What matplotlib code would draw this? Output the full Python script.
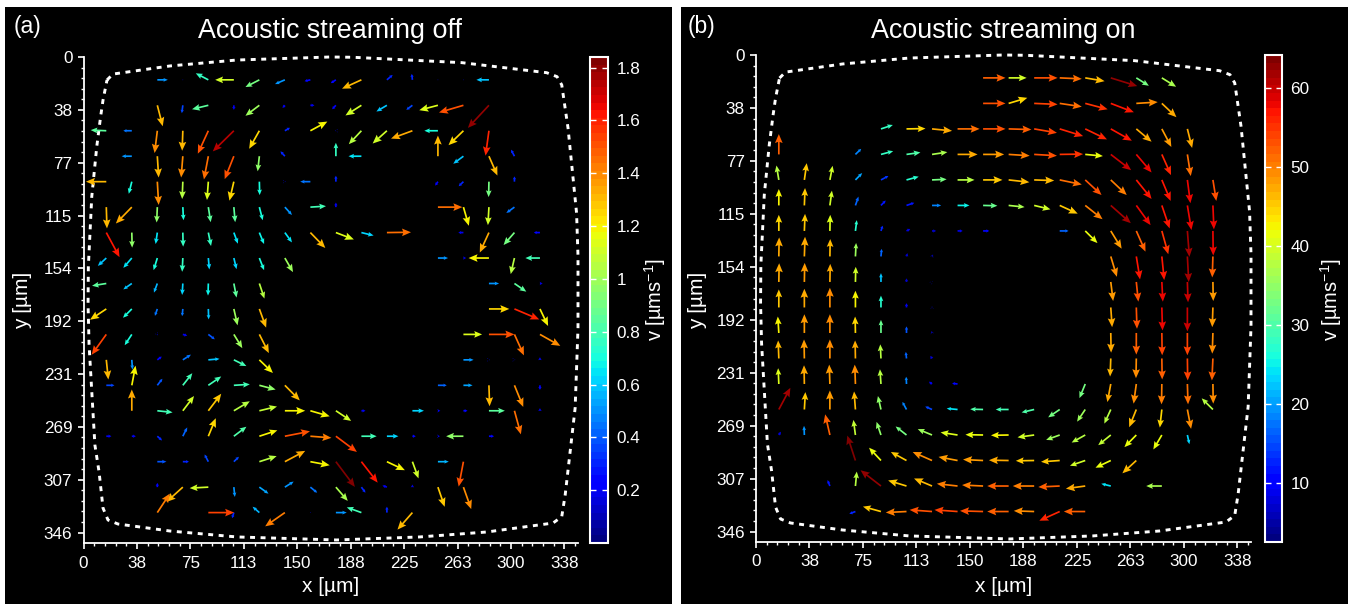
import numpy as np
import matplotlib
matplotlib.use('Agg')
import matplotlib.pyplot as plt
from matplotlib.cm import ScalarMappable
from matplotlib.colors import Normalize
from matplotlib.patches import Rectangle
from matplotlib.ticker import AutoMinorLocator

plt.rcParams['font.family'] = ['Liberation Sans', 'DejaVu Sans']
plt.rcParams['mathtext.default'] = 'regular'

W, H = 1349, 604

# measurement grid, um
grid_x = [16.0, 33.9, 51.8, 69.7, 87.6, 105.5, 123.4, 141.3, 159.2, 177.1, 195.0, 212.9, 230.8, 248.7, 266.6, 284.5, 302.4, 320.3]
grid_y = [16.6, 35.1, 53.6, 72.1, 90.6, 109.1, 127.6, 146.1, 164.6, 183.1, 201.6, 220.1, 238.6, 257.1, 275.6, 294.1, 312.6, 331.1]

x_ticks = [0, 37.5, 75, 112.5, 150, 187.5, 225, 262.5, 300, 337.5]
x_labels = ['0', '38', '75', '113', '150', '188', '225', '263', '300', '338']
y_ticks = [0, 38.4, 76.8, 115.2, 153.6, 192, 230.4, 268.8, 307.2, 345.6]
y_labels = ['0', '38', '77', '115', '154', '192', '231', '269', '307', '346']

# chamber outline
wall_x = [16.5, 20.7, 60.7, 107.5, 173, 189, 265.4, 325, 332.3, 335.6, 340, 346, 347, 347, 345, 338, 335.6, 329.5, 283, 236, 177.7, 107.5, 60.7, 24.2, 17.2, 13.7, 10.9, 8, 5.8, 3.9, 3.2, 3.4, 5.8, 9.3, 12, 13.7, 16.5]
wall_y = [16.7, 12.4, 6.5, 2.2, 0, 0.2, 4.1, 11.4, 14.3, 20.3, 51.6, 113.4, 144.6, 197, 255, 318.3, 334, 338.7, 345.2, 348.8, 351, 348.8, 344.5, 339.4, 336.5, 327.8, 301.4, 282, 243, 209, 180, 152.4, 101.5, 65.2, 43.4, 31.3, 16.7]

# panel a, one line per grid row: column index, arrow components, speed
a_col = [
    [2, 3, 4, 5, 6, 7, 8, 9, 10, 11, 12, 13, 14, 15],
    [2, 3, 4, 5, 6, 7, 8, 9, 10, 11, 12, 13, 14, 15],
    [0, 1, 2, 3, 4, 5, 6, 7, 8, 9, 10, 11, 12, 13, 14, 15],
    [1, 2, 3, 4, 5, 6, 7, 9, 10, 13, 14, 15, 16],
    [0, 1, 2, 3, 4, 5, 6, 7, 8, 9, 13, 14, 15, 16],
    [0, 1, 2, 3, 4, 5, 6, 7, 8, 9, 13, 14, 15, 16],
    [0, 1, 2, 3, 4, 5, 6, 7, 8, 9, 10, 11, 14, 15, 16, 17],
    [0, 1, 2, 3, 4, 5, 6, 7, 13, 14, 15, 16, 17],
    [0, 1, 2, 3, 4, 5, 6, 15, 16, 17],
    [0, 1, 2, 3, 4, 5, 6, 15, 16, 17],
    [0, 1, 2, 3, 4, 5, 6, 14, 15, 16, 17],
    [0, 1, 2, 3, 4, 5, 6, 14, 15, 16, 17],
    [0, 1, 2, 3, 4, 5, 6, 7, 13, 14, 15, 16, 17],
    [1, 2, 3, 4, 5, 6, 7, 8, 9, 10, 12, 13, 14, 15, 16, 17],
    [0, 1, 2, 3, 4, 5, 6, 7, 8, 9, 10, 11, 12, 13, 14, 15],
    [2, 3, 4, 5, 6, 7, 8, 9, 10, 11, 12, 13, 14],
    [2, 3, 4, 5, 6, 7, 8, 9, 10, 11, 12, 13, 14],
    [2, 4, 5, 6, 7, 8, 9, 10, 11, 12],
]
a_u = [
    [31, 2, -37, -55, -41, -29, -17, -15, -57, 17, -2, -2, -2, -37],
    [16, -3, -48, 0, -41, -7, 12, -11, -47, -31, -18, -55, -72, -62],
    [-46, -25, -8, -2, -31, -62, -30, 15, 50, -3, -37, -42, -63, -40, -44, -10],
    [-30, 4, -5, -13, -27, -5, -13, 0, -38, 0, -30, 25, -10],
    [-60, -9, 4, -2, -4, -13, 1, 3, -30, 0, -8, -14, -1, 0],
    [2, -47, -2, 2, 7, 4, 10, 21, 46, 0, 72, 16, -3, -24],
    [39, 1, -5, 1, 8, 12, 14, 21, 44, 53, 36, 71, -15, -27, -32, -18],
    [-25, -25, -11, -2, 3, 8, 14, 24, 30, 8, -60, -11, -43],
    [-42, -25, -10, -2, -1, 8, 15, 30, 35, 8],
    [-48, -26, -7, -2, 1, 11, 20, 60, 73, 24],
    [-43, -21, 2, 13, 19, 25, 28, 55, 75, 28, 60],
    [6, 2, 13, 24, 33, 37, 40, 30, 3, 3, 0],
    [24, 11, 15, 28, 38, 47, 48, 44, 26, 27, 2, 26, 0],
    [0, 45, 33, 38, 47, 52, 60, 57, 45, 12, 34, 7, 12, 47, 19, 0],
    [15, 12, 14, 13, 22, 37, 53, 74, 62, 62, 45, 34, 10, 6, -51, 15],
    [27, 18, -11, 15, 51, 60, 57, 56, 48, 53, 18, 32, -14],
    [0, -48, -55, 3, 27, 26, 20, 35, 12, -13, 0, 20, 23],
    [37, 76, -5, -20, -58, 2, 32, -43, 0, -44],
]
a_v = [
    [0, 0, -20, 0, 22, 13, 4, 10, 27, -15, -18, 0, 0, 0],
    [64, 24, 12, 14, 32, 8, 0, 12, 31, 19, 14, 15, 22, 69],
    [-2, 0, 68, 61, 70, 63, 55, -9, -28, 0, 41, 39, 24, 0, 44, 76],
    [0, 65, 65, 71, 70, 46, -15, -41, 0, -63, 23, 59, -20],
    [0, 37, 71, 53, 56, 58, 41, 0, 0, -18, 12, 14, 47, -16],
    [65, 50, 47, 40, 46, 46, 40, 24, -3, -14, 0, 57, 55, 18],
    [75, 46, 35, 43, 41, 34, 35, 30, 47, 21, 9, -1, 0, 61, 38, 0],
    [24, 30, 37, 42, 35, 34, 37, 43, 0, 0, 0, 49, 0],
    [7, 18, 28, 35, 37, 43, 46, 0, 25, 0],
    [33, 27, 21, 22, 32, 50, 57, 0, 32, 52],
    [62, 33, 3, 4, 15, 42, 57, 0, 0, 64, 35],
    [60, 30, -10, -16, -3, 19, 40, 0, 0, 0, -8],
    [0, -60, -20, -37, -27, -3, 13, 46, 0, 0, 64, 66, 14],
    [-65, 5, -45, -52, -29, -13, 0, 17, 31, 0, 0, 0, 0, 0, 72, -8],
    [0, 0, 13, -27, -55, -29, -18, -15, 5, 48, 0, 0, 0, 0, 0, 0],
    [0, 0, -22, -15, -17, -33, 11, 77, 64, 26, 51, 0, 76],
    [-13, 45, 3, 30, 20, -17, 17, 42, 17, -5, -8, 60, 67],
    [-58, 0, 17, -18, 42, 0, 0, -16, -18, 52],
]
a_speed = [
    [.5, .1, .75, 1.1, .9, .5, .25, .25, 1.3, .3, .3, .1, .08, .6],
    [1.3, .35, .85, .2, 1.0, .2, .2, .25, 1.1, .6, .35, 1.15, 1.5, 1.8],
    [.85, .45, 1.4, 1.3, 1.5, 1.75, 1.25, .3, 1.2, .1, 1.05, 1.1, 1.35, .7, 1.25, 1.6],
    [.5, 1.3, 1.4, 1.45, 1.5, .95, .3, .75, .65, 1.3, .6, 1.3, .3],
    [1.3, .7, 1.4, 1.05, 1.15, 1.25, .7, .1, .45, .3, .25, .3, .9, .3],
    [1.3, 1.35, .95, .7, .85, .85, .7, .5, .8, .2, 1.45, 1.2, 1.1, .45],
    [1.62, .95, .65, .75, .75, .65, .68, .65, 1.3, 1.15, .62, 1.45, .2, 1.35, .9, .25],
    [.6, .65, .7, .75, .62, .62, .7, 1.0, .5, .15, 1.2, 1.05, .8],
    [.85, .6, .55, .62, .68, .85, 1.05, .5, .85, .15],
    [1.25, .7, .45, .45, .6, 1.0, 1.3, 1.25, 1.6, 1.2],
    [1.55, .7, .1, .2, .4, 1.0, 1.3, 1.15, 1.52, 1.45, 1.4],
    [1.3, .5, .25, .45, .6, .8, 1.2, .5, .1, .1, .2],
    [.35, 1.2, .4, .8, .8, .8, .95, 1.3, .42, .52, 1.3, 1.4, .25],
    [1.35, .8, 1.1, 1.28, 1.05, 1.08, 1.18, 1.18, 1.1, .2, .62, .2, .25, .85, 1.45, .2],
    [.2, .2, .3, .42, 1.25, .82, 1.18, 1.5, 1.42, 1.55, .8, .62, .25, .15, .95, .25],
    [.4, .3, .35, .35, 1.05, 1.35, 1.18, 1.84, 1.62, 1.2, 1.1, .55, 1.52],
    [.25, 1.3, 1.12, .5, .52, .5, .45, 1.02, .3, .2, .15, 1.28, 1.4],
    [1.42, 1.55, .3, .55, 1.42, .1, .5, .8, .3, 1.3],
]

# panel b
b_col = [
    [8, 9, 10, 11, 12, 13, 14, 15],
    [8, 9, 10, 11, 12, 13, 14, 15],
    [4, 5, 6, 7, 8, 9, 10, 11, 12, 13, 14, 15, 16],
    [0, 3, 4, 5, 6, 7, 8, 9, 10, 11, 12, 13, 14, 15, 16],
    [0, 1, 2, 3, 4, 5, 6, 7, 8, 9, 10, 11, 12, 13, 14, 15, 16, 17],
    [0, 1, 2, 3, 4, 5, 6, 7, 8, 9, 10, 11, 12, 13, 14, 15, 16, 17],
    [0, 1, 2, 3, 4, 5, 6, 7, 8, 11, 12, 13, 14, 15, 16, 17],
    [0, 1, 2, 3, 4, 5, 6, 13, 14, 15, 16, 17],
    [0, 1, 2, 3, 4, 5, 6, 13, 14, 15, 16, 17],
    [0, 1, 2, 3, 4, 5, 6, 13, 14, 15, 16, 17],
    [0, 1, 2, 3, 4, 5, 6, 13, 14, 15, 16, 17],
    [0, 1, 2, 3, 4, 5, 6, 13, 14, 15, 16, 17],
    [0, 1, 2, 3, 4, 5, 6, 7, 12, 13, 14, 15, 16, 17],
    [0, 1, 2, 3, 4, 5, 6, 7, 8, 9, 10, 11, 12, 13, 14, 15, 16, 17],
    [0, 1, 2, 3, 4, 5, 6, 7, 8, 9, 10, 11, 12, 13, 14, 15, 16],
    [3, 4, 5, 6, 7, 8, 9, 10, 11, 12, 13, 14],
    [2, 3, 4, 5, 6, 7, 8, 9, 10, 11, 12, 13, 15],
    [3, 4, 5, 6, 7, 8, 9, 10, 11, 12],
]
b_u = [
    [66, 53, 69, 65, 57, 78, 37, 42],
    [66, 55, 69, 65, 66, 68, 63, 43],
    [35, 56, 59, 65, 66, 67, 67, 69, 64, 62, 45, 28, 14],
    [0, 17, 36, 41, 45, 59, 62, 62, 67, 69, 52, 60, 45, 27, 10],
    [-7, 7, 8, 20, 22, 36, 43, 50, 57, 61, 59, 65, 48, 47, 45, 26, 9, 10],
    [0, 2, 6, 9, 14, 23, 27, 35, 42, 47, 48, 53, 51, 59, 42, 23, 12, 3],
    [0, 2, 1, 4, 5, 11, 12, 15, 18, 26, 36, 32, 27, 19, 6, 1],
    [1, 2, 1, 2, 2, 3, 3, 18, 11, 7, 4, -2],
    [1, 1, 1, 1, 0, 0, 2, 7, 6, 3, 2, 1],
    [0, 0, 0, 0, 0, 0, 0, 4, 2, 2, 0, -2],
    [-3, 0, 0, -1, 0, 0, -2, 1, 0, 1, 0, -2],
    [-2, -1, 0, -1, -2, -2, -5, -2, -1, 1, 1, -3],
    [-2, -1, -2, -2, -3, -1, -9, -16, -17, -10, -8, -1, 2, 1],
    [34, 3, 0, -4, -9, -12, -20, -32, -38, -38, -37, -34, -24, -19, -21, -6, 11, -33],
    [6, -1, -14, -6, -13, -32, -42, -50, -52, -52, -49, -40, -40, -37, -35, -25, 6],
    [-24, -35, -46, -57, -56, -59, -58, -54, -55, -45, -45, -41],
    [-7, 4, -60, -54, -53, -61, -62, -63, -63, -63, -57, -28, -46],
    [-18, -53, -61, -66, -68, -68, -63, -60, -60, -63],
]
b_v = [
    [0, 0, 0, 3, 10, 25, 24, 27],
    [0, -17, 3, 10, 18, 27, -4, 42],
    [-12, -1, 6, 0, 0, 2, 12, 22, 32, 36, 39, 55, 58],
    [-62, -17, -10, -6, -7, 0, 0, 4, 4, -1, 5, 48, 55, 63, 66],
    [-44, -51, -43, -21, -12, -10, -2, 0, 0, 7, 2, 14, 46, 46, 58, 64, 71, 64],
    [-50, -53, -45, -27, -15, -8, 0, 0, 1, 5, 12, 25, 42, 54, 60, 70, 75, 73],
    [-49, -52, -49, -33, -16, -6, 0, 0, 0, 0, 37, 54, 63, 71, 79, 75],
    [-58, -60, -53, -41, -23, -10, -6, 62, 70, 72, 78, 64],
    [-57, -58, -55, -46, -27, -11, -2, 58, 60, 60, 62, 58],
    [-55, -57, -60, -51, -36, -13, -4, 60, 65, 70, 73, 60],
    [-50, -57, -57, -50, -40, -20, -6, 60, 66, 68, 68, 63],
    [-55, -58, -58, -55, -43, -20, -8, 55, 60, 64, 67, 67],
    [-48, -57, -59, -59, -45, -22, -7, -2, 43, 55, 60, 62, 62, 60],
    [-66, -53, -58, -55, -41, -23, -9, -3, -1, 0, 9, 24, 37, 43, 54, 55, 59, -34],
    [-10, -28, -63, -46, -40, -26, -18, -8, -1, 1, 7, 15, 23, 31, 37, 44, 28],
    [-76, -39, -26, -26, -11, -3, -1, 1, 4, 16, 22, 39],
    [-18, -44, -48, -17, -23, -7, -3, 0, 0, 3, 8, -7, 0],
    [7, -15, 3, -5, -5, -2, 0, -2, 28, 0],
]
b_speed = [
    [52, 40, 53, 51, 46, 63, 33, 37],
    [53, 44, 54, 51, 55, 57, 49, 47],
    [28, 44, 47, 51, 53, 52, 54, 56, 56, 57, 47, 48, 47],
    [52, 18, 28, 30, 37, 47, 48, 50, 53, 55, 42, 60, 58, 56, 51],
    [38, 45, 40, 20, 14, 27, 33, 38, 45, 46, 46, 51, 53, 50, 57, 57, 58, 53],
    [43, 45, 40, 17, 12, 12, 18, 25, 32, 37, 40, 45, 50, 62, 58, 57, 58, 58],
    [44, 45, 41, 27, 13, 8, 7, 9, 11, 17, 42, 48, 52, 55, 62, 58],
    [47, 47, 46, 36, 17, 7, 5, 49, 57, 57, 62, 52],
    [47, 48, 47, 40, 22, 7, 4, 48, 53, 58, 60, 48],
    [45, 47, 49, 43, 27, 9, 3, 47, 53, 58, 60, 48],
    [43, 48, 49, 44, 32, 16, 5, 47, 52, 54, 54, 49],
    [46, 48, 49, 47, 38, 17, 8, 46, 49, 52, 54, 52],
    [41, 47, 48, 49, 38, 18, 9, 11, 33, 47, 49, 50, 51, 49],
    [62, 45, 48, 46, 35, 18, 15, 24, 30, 29, 30, 33, 36, 38, 46, 44, 49, 38],
    [8, 19, 52, 39, 35, 33, 36, 41, 42, 43, 40, 36, 38, 39, 42, 42, 23],
    [64, 42, 45, 49, 48, 48, 47, 45, 45, 40, 42, 46],
    [12, 38, 63, 45, 46, 50, 50, 52, 50, 52, 47, 24, 37],
    [13, 45, 50, 53, 54, 53, 52, 49, 56, 52],
]

a_ticks = [0.2, 0.4, 0.6, 0.8, 1, 1.2, 1.4, 1.6, 1.8]
a_ticklabels = ['0.2', '0.4', '0.6', '0.8', '1', '1.2', '1.4', '1.6', '1.8']
b_ticks = [10, 20, 30, 40, 50, 60]
b_ticklabels = ['10', '20', '30', '40', '50', '60']

cmap = plt.get_cmap('jet', 64)
SCALE = 4.2     # arrow units per data unit
SHAFT = 1.7     # px


def box(left, top, right, bottom):
    # pixel box -> figure fractions
    return [left / W, 1 - bottom / H, (right - left) / W, (bottom - top) / H]


def text_px(x, y, s, **kw):
    fig.text(x / W, 1 - y / H, s, color='white', ha=kw.pop('ha', 'center'), va='center', **kw)


def panel(frame, ax_box, cb_box, col, u, v, speed, vlim, ticks, ticklabels, tag, title, tag_x, mid_x, ylab_x, cblab_x):
    fig.add_artist(Rectangle((frame[0], frame[1]), frame[2], frame[3], transform=fig.transFigure, color='black', lw=0, zorder=-5))

    ax = fig.add_axes(box(*ax_box))
    ax.set_facecolor('black')
    ax.set_xlim(0, 347)
    ax.set_ylim(353.2, 0)

    rows = [[j] * len(c) for j, c in enumerate(col)]
    x = np.array(grid_x)[np.concatenate(col)]
    y = np.array(grid_y)[np.concatenate(rows)]
    uu = np.concatenate(u).astype(float)
    vv = np.concatenate(v).astype(float)
    ss = np.concatenate(speed).astype(float)

    ax.plot(wall_x, wall_y, color='white', lw=2.1, dashes=(1.7, 1.9), zorder=1, clip_on=False)

    # heads in the original grow with arrow length, so draw in length groups
    norm = Normalize(*vlim)
    length = np.hypot(uu, vv) / 3
    group = np.round(length / 2.5).astype(int)
    for g in np.unique(group):
        m = group == g
        head = min(max(g * 2.5 * 0.45, 3.0), 9.0)
        ax.quiver(x[m], y[m], uu[m], vv[m], ss[m], cmap=cmap, norm=norm, units='dots', width=SHAFT,
                  angles='xy', scale_units='xy', scale=SCALE,
                  headwidth=max(head * 0.85, 3.5) / SHAFT, headlength=head / SHAFT,
                  headaxislength=head * 0.87 / SHAFT, minshaft=0.3, minlength=0.5, zorder=2)

    for s in ['top', 'right']:
        ax.spines[s].set_visible(False)
    for s in ['left', 'bottom']:
        ax.spines[s].set_color('white')
        ax.spines[s].set_linewidth(1.3)
    ax.set_xticks(x_ticks)
    ax.set_xticklabels(x_labels)
    ax.set_yticks(y_ticks)
    ax.set_yticklabels(y_labels)
    ax.xaxis.set_minor_locator(AutoMinorLocator(5))
    ax.yaxis.set_minor_locator(AutoMinorLocator(5))
    ax.tick_params(which='major', colors='white', length=4, width=1.2, labelsize=12.3)
    ax.tick_params(axis='x', which='major', pad=5)
    ax.tick_params(axis='y', which='major', pad=4)
    ax.tick_params(which='minor', colors='white', length=2, width=1)

    cax = fig.add_axes(box(*cb_box))
    cb = fig.colorbar(ScalarMappable(norm=norm, cmap=cmap), cax=cax)
    cb.set_ticks(ticks)
    cb.set_ticklabels(ticklabels)
    cb.outline.set_edgecolor('white')
    cb.outline.set_linewidth(1.5)
    cax.tick_params(which='major', direction='in', left=True, right=True, colors='white', length=4, width=1, labelsize=12.3, pad=6)
    cax.minorticks_off()

    text_px(tag_x, 27, tag, fontsize=16.5, ha='left')
    text_px(mid_x, 31, title, fontsize=19.4)
    text_px(mid_x + 1, 587, 'x [µm]', fontsize=15)
    text_px(ylab_x, 300, 'y [µm]', fontsize=15, rotation=90)
    text_px(cblab_x, 300, 'v [µms$^{-1}$]', fontsize=14.5, rotation=90)


fig = plt.figure(figsize=(W / 100, H / 100), dpi=100, facecolor='white')

panel(box(5, 7, 672, 604), (83.5, 57, 578, 543), (590, 57, 608, 543),
      a_col, a_u, a_v, a_speed, (0, 1.84), a_ticks, a_ticklabels,
      '(a)', 'Acoustic streaming off', 14, 330, 23, 655)
panel(box(681, 7, 1348, 604), (756, 55, 1251, 542), (1265, 55, 1282, 542),
      b_col, b_u, b_v, b_speed, (2.6, 64.2), b_ticks, b_ticklabels,
      '(b)', 'Acoustic streaming on', 688, 1003, 698, 1331)

plt.savefig('out.png', dpi=100, facecolor=fig.get_facecolor())
